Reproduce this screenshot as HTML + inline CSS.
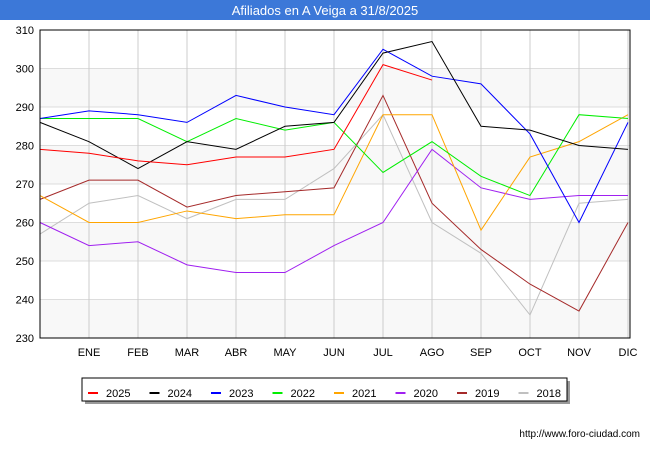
<!DOCTYPE html>
<html><head><meta charset="utf-8"><style>
body{margin:0;background:#fff;font-family:"Liberation Sans",sans-serif}
</style></head><body>
<svg width="650" height="450" xmlns="http://www.w3.org/2000/svg" font-family="Liberation Sans, sans-serif">
<rect x="0" y="0" width="650" height="20" fill="#3c78d8"/>
<text x="325" y="15" text-anchor="middle" fill="#fff" font-size="13">Afiliados en A Veiga a 31/8/2025</text>
<g id="bands"></g>
<g id="grid"></g>
<g id="series"></g>
<rect x="40" y="30" width="590" height="308" fill="none" stroke="#000" stroke-width="1"/>
<g id="ylab" font-size="11" fill="#000"></g>
<g id="xlab" font-size="11" fill="#000"></g>
<rect x="85" y="381" width="485" height="23" fill="#999"/>
<rect x="82" y="378" width="485" height="23" fill="#fff" stroke="#000"/>
<g id="legend" font-size="11"></g>
<text x="640" y="437" text-anchor="end" font-size="10" fill="#000">http://www.foro-ciudad.com</text>
</svg>
<script>
const months=["","ENE","FEB","MAR","ABR","MAY","JUN","JUL","AGO","SEP","OCT","NOV","DIC"];
const yTicks=[230,240,250,260,270,280,290,300,310];
const seriesNames=["2025","2024","2023","2022","2021","2020","2019","2018"];
const seriesColors=["#ff0000","#000000","#0000ff","#00ee00","#ffa500","#a020f0","#a52a2a","#c0c0c0"];
const s2025=[279,278,276,275,277,277,279,301,297];
const s2024=[286,281,274,281,279,285,286,304,307,285,284,280,279];
const s2023=[287,289,288,286,293,290,288,305,298,296,283,260,286];
const s2022=[287,287,287,281,287,284,286,273,281,272,267,288,287];
const s2021=[267,260,260,263,261,262,262,288,288,258,277,281,288];
const s2020=[260,254,255,249,247,247,254,260,279,269,266,267,267];
const s2019=[266,271,271,264,267,268,269,293,265,253,244,237,260];
const s2018=[257,265,267,261,266,266,274,288,260,252,236,265,266];
const allSeries=[s2025,s2024,s2023,s2022,s2021,s2020,s2019,s2018];
const NS="http://www.w3.org/2000/svg";
const x0=40,x1=628,yTop=30,yBot=338,vMin=230,vMax=310;
const xs=i=>x0+i*(x1-x0)/(months.length-1);
const ys=v=>yBot-(v-vMin)*(yBot-yTop)/(vMax-vMin);
function mk(tag,attrs,parent){const e=document.createElementNS(NS,tag);for(const k in attrs)e.setAttribute(k,attrs[k]);parent.appendChild(e);return e;}
const bands=document.getElementById('bands'),grid=document.getElementById('grid');
for(let i=0;i<yTicks.length-1;i++){
  if(i%2===0){const r=mk('rect',{x:40,y:ys(yTicks[i+1]),width:590,height:ys(yTicks[i])-ys(yTicks[i+1]),fill:'#f8f8f8'},bands);
  
  }
}
const ylab=document.getElementById('ylab');
yTicks.forEach(v=>{
  const l=mk('line',{x1:40,x2:630,y1:ys(v),y2:ys(v),stroke:'#dddddd'},grid);
  
  
  const t=mk('text',{x:34,y:ys(v)+4,'text-anchor':'end'},ylab);t.textContent=v;
  
  
});
const xlab=document.getElementById('xlab');
months.forEach((m,i)=>{
  if(i>0){const l=mk('line',{x1:xs(i),x2:xs(i),y1:30,y2:338,stroke:'#cccccc'},grid);
  
  }
  const t=mk('text',{x:xs(i),y:356,'text-anchor':'middle'},xlab);t.textContent=m;
  
  
});
const sg=document.getElementById('series');
for(let k=allSeries.length-1;k>=0;k--){
  const pts=allSeries[k].map((v,i)=>xs(i)+','+ys(v)).join(' ');
  const p=mk('polyline',{points:pts,fill:'none',stroke:seriesColors[k],'stroke-width':1},sg);
  
  
}
const lg=document.getElementById('legend');
seriesNames.forEach((n,k)=>{
  const bx=88+k*61.5;
  const l=mk('line',{x1:bx,x2:bx+10,y1:393,y2:393,stroke:seriesColors[k],'stroke-width':2},lg);
  
  
  const t=mk('text',{x:bx+18,y:397},lg);t.textContent=n;
  
  
});
</script>
</body></html>
